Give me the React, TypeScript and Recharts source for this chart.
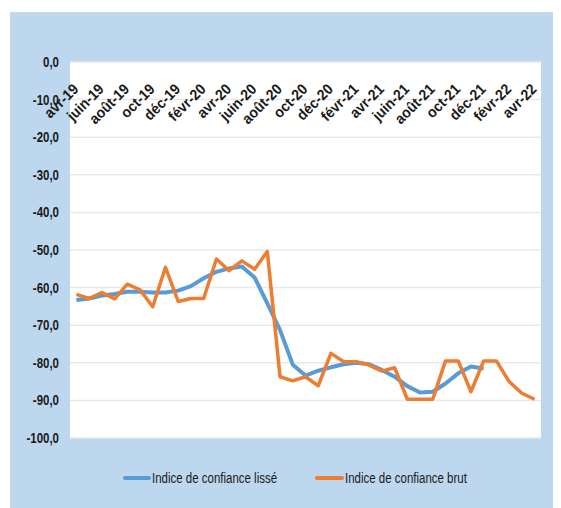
import React from 'react';
import { LineChart, Line, XAxis, YAxis, CartesianGrid, Legend } from 'recharts';

const months = [
  'avr-19', 'mai-19', 'juin-19', 'juil-19', 'août-19', 'sept-19', 'oct-19', 'nov-19', 'déc-19',
  'janv-20', 'févr-20', 'mars-20', 'avr-20', 'mai-20', 'juin-20', 'juil-20', 'août-20', 'sept-20',
  'oct-20', 'nov-20', 'déc-20', 'janv-21', 'févr-21', 'mars-21', 'avr-21', 'mai-21', 'juin-21',
  'juil-21', 'août-21', 'sept-21', 'oct-21', 'nov-21', 'déc-21', 'janv-22', 'févr-22', 'mars-22', 'avr-22',
];

const lisse: (number | null)[] = [
  -63.3, -62.9, -62.1, -61.7, -61.1, -61.1, -61.3, -61.3, -60.8, -59.6, -57.5, -55.8, -54.9,
  -54.4, -57.3, -64.2, -71.3, -80.5, -83.4, -82.1, -81.2, -80.4, -80.0, -80.4, -81.9, -83.7,
  -86.2, -87.9, -87.7, -85.5, -82.8, -81.0, -81.5, null, null, null, null,
];

const brut: number[] = [
  -61.8, -62.9, -61.3, -63.0, -59.1, -60.6, -65.1, -54.6, -63.7, -62.9, -62.9, -52.4, -55.5,
  -52.9, -55.1, -50.4, -83.7, -84.8, -83.7, -86.1, -77.5, -79.7, -79.7, -80.6, -82.2, -81.3,
  -89.7, -89.7, -89.7, -79.5, -79.5, -87.7, -79.5, -79.5, -85.0, -88.1, -89.7,
];

const yTicks = [0, -10, -20, -30, -40, -50, -60, -70, -80, -90, -100];

const seriesNames = ['Indice de confiance lissé', 'Indice de confiance brut'];

const data = months.map((m, i) => ({ month: m, lisse: lisse[i], brut: brut[i] }));

const BLUE = '#5B9BD5';
const ORANGE = '#ED7D31';
const FONT = '"Liberation Sans", Arial, sans-serif';
const TEXT = '#1a1a1a';

const CHART_W = 550;
const CHART_H = 495;
const MARGIN = { top: 48, right: 20, bottom: 70, left: 0 };
const XAXIS_H = 1;
const PLOT_TOP = MARGIN.top + XAXIS_H;

const XTick = (props: any) => {
  const { x, payload } = props;
  const bx = x + 3;
  const by = PLOT_TOP + 28;
  return (
    <g transform={`translate(${bx}, ${by}) rotate(-45)`}>
      <text
        x={0}
        y={0}
        transform="scale(0.93, 1)"
        textAnchor="end"
        fontFamily={FONT}
        fontWeight="bold"
        fontSize={15}
        fill={TEXT}
      >
        {payload.value}
      </text>
    </g>
  );
};

const fmt = (v: number) => v.toFixed(1).replace('.', ',');

const YTick = (props: any) => {
  const { x, y, payload } = props;
  return (
    <g transform={`translate(${x}, ${y})`}>
      <text
        x={0}
        y={0}
        dy="0.36em"
        transform="scale(0.82, 1)"
        textAnchor="end"
        fontFamily={FONT}
        fontWeight="bold"
        fontSize={14}
        fill={TEXT}
      >
        {fmt(payload.value)}
      </text>
    </g>
  );
};

const labelStyle: React.CSSProperties = {
  position: 'absolute',
  top: 2,
  whiteSpace: 'nowrap',
  lineHeight: '18px',
  transform: 'scaleX(0.82)',
  transformOrigin: 'left center',
};

const LegendContent = () => (
  <div style={{ position: 'relative', width: CHART_W, height: 22, fontFamily: FONT, fontSize: 14, color: TEXT }}>
    <div style={{ position: 'absolute', left: 112, top: 9, width: 28, height: 4, background: BLUE, borderRadius: 2 }} />
    <div style={{ ...labelStyle, left: 141 }}>{seriesNames[0]}</div>
    <div style={{ position: 'absolute', left: 304, top: 9, width: 29, height: 4, background: ORANGE, borderRadius: 2 }} />
    <div style={{ ...labelStyle, left: 334 }}>{seriesNames[1]}</div>
  </div>
);

export default function App() {
  return (
    <div style={{ position: 'relative', width: 553, height: 500, background: '#fff' }}>
      <div
        style={{
          position: 'absolute',
          left: 2,
          top: 4,
          width: 551,
          height: 496,
          boxSizing: 'border-box',
          background: '#BDD7EE',
          borderLeft: '1px solid #D6D6D6',
          borderTop: '1px solid #D6D6D6',
        }}
      >
        <LineChart width={CHART_W} height={CHART_H} data={data} margin={MARGIN}>
          <CartesianGrid vertical={false} stroke="#E9E9E9" strokeWidth={1.5} fill="#FFFFFF" />
          <XAxis
            dataKey="month"
            orientation="top"
            height={XAXIS_H}
            axisLine={false}
            tickLine={false}
            interval={1}
            padding={{ left: 6.4, right: 6.4 }}
            tick={<XTick />}
          />
          <YAxis
            width={59}
            domain={[-100, 0]}
            ticks={yTicks}
            axisLine={false}
            tickLine={false}
            tickSize={0}
            tickMargin={11}
            tick={<YTick />}
            interval={0}
          />
          <Legend
            verticalAlign="middle"
            align="center"
            wrapperStyle={{ left: 0, top: 454, width: CHART_W }}
            content={<LegendContent />}
          />
          <Line
            type="linear"
            dataKey="lisse"
            name={seriesNames[0]}
            stroke={BLUE}
            strokeWidth={4}
            dot={false}
            strokeLinejoin="round"
            isAnimationActive={false}
          />
          <Line
            type="linear"
            dataKey="brut"
            name={seriesNames[1]}
            stroke={ORANGE}
            strokeWidth={3.5}
            dot={false}
            strokeLinejoin="round"
            isAnimationActive={false}
          />
        </LineChart>
      </div>
    </div>
  );
}
